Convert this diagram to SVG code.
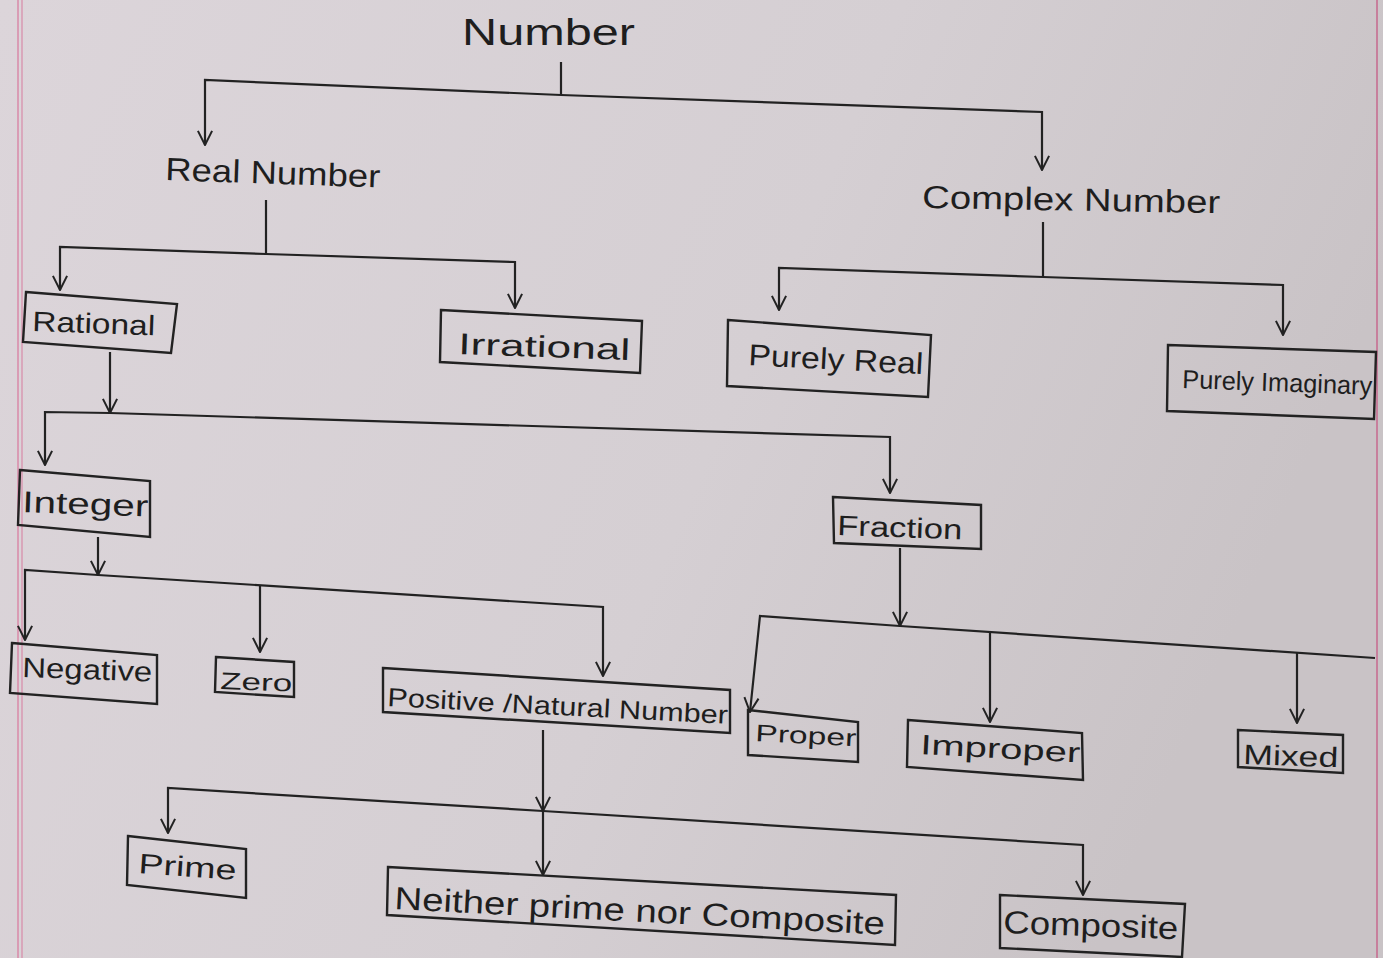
<svg xmlns="http://www.w3.org/2000/svg" width="1383" height="958" viewBox="0 0 1383 958">
<defs>
<linearGradient id="paper" x1="0" y1="0" x2="1" y2="0.3">
<stop offset="0" stop-color="#dcd5da"/>
<stop offset="0.6" stop-color="#d5cfd3"/>
<stop offset="1" stop-color="#c9c3c6"/>
</linearGradient>
<marker id="arr" viewBox="0 0 12 12" refX="11" refY="6" markerWidth="17" markerHeight="17" markerUnits="userSpaceOnUse" orient="auto">
<path d="M1,1 L11,6 L1,11" fill="none" stroke="#222" stroke-width="1.4"/>
</marker>
<style>
.t{font-family:"Liberation Sans",Arial,sans-serif;fill:#1e1e1e;}
.b{fill:none;stroke:#222;stroke-width:2.4;stroke-linejoin:miter;}
.c{fill:none;stroke:#222;stroke-width:2.2;}
.a{marker-end:url(#arr);}
</style>
</defs>
<rect width="1383" height="958" fill="url(#paper)"/>
<line x1="18" y1="0" x2="18" y2="958" stroke="#d88aa8" stroke-width="1.5"/>
<line x1="22" y1="0" x2="22" y2="958" stroke="#d88aa8" stroke-width="1.2"/>
<line x1="1377" y1="0" x2="1377" y2="958" stroke="#c77f9c" stroke-width="2"/>

<g id="connectors">
<path class="c" d="M561,62 L561,95"/>
<path class="c a" d="M561,95 L205,80 L205,145"/>
<path class="c a" d="M561,95 L1042,112 L1042,170"/>
<path class="c" d="M266,200 L266,254"/>
<path class="c a" d="M266,254 L60,247 L60,290"/>
<path class="c a" d="M266,254 L515,262 L515,308"/>
<path class="c" d="M1043,222 L1043,277"/>
<path class="c a" d="M1043,277 L779,268 L779,310"/>
<path class="c a" d="M1043,277 L1283,285 L1283,335"/>
<path class="c a" d="M110,352 L110,413"/>
<path class="c a" d="M110,413 L45,412 L45,465"/>
<path class="c a" d="M110,413 L890,437 L890,493"/>
<path class="c a" d="M98,537 L98,575"/>
<path class="c a" d="M98,575 L25,570 L25,640"/>
<path class="c a" d="M260,585 L260,652"/>
<path class="c a" d="M98,575 L603,607 L603,676"/>
<path class="c a" d="M900,548 L900,626"/>
<path class="c a" d="M900,626 L760,616 L750,712"/>
<path class="c" d="M900,626 L1375,658"/>
<path class="c a" d="M990,632 L990,722"/>
<path class="c a" d="M1297,653 L1297,723"/>
<path class="c a" d="M543,730 L543,811"/>
<path class="c a" d="M543,811 L543,875"/>
<path class="c a" d="M543,811 L168,788 L168,833"/>
<path class="c a" d="M543,811 L1083,845 L1083,895"/>
</g>

<g id="number"><text class="t" x="462" y="45" font-size="36" textLength="173" lengthAdjust="spacingAndGlyphs">Number</text></g>
<g id="real-number"><text class="t" x="165" y="180" font-size="32" textLength="215" lengthAdjust="spacingAndGlyphs" transform="rotate(2 165 180)">Real Number</text></g>
<g id="complex-number"><text class="t" x="922" y="208" font-size="32" textLength="298" lengthAdjust="spacingAndGlyphs" transform="rotate(1 922 208)">Complex Number</text></g>

<g id="rational">
<polygon class="b" points="26,292 177,304 171,353 23,342"/>
<text class="t" x="32" y="331" font-size="28" textLength="123" lengthAdjust="spacingAndGlyphs" transform="rotate(2 32 331)">Rational</text>
</g>
<g id="irrational">
<polygon class="b" points="441,310 642,321 640,373 440,362"/>
<text class="t" x="458" y="354" font-size="30" textLength="172" lengthAdjust="spacingAndGlyphs" transform="rotate(2 458 354)">Irrational</text>
</g>
<g id="purely-real">
<polygon class="b" points="728,320 931,335 928,397 727,386"/>
<text class="t" x="748" y="365" font-size="30" textLength="175" lengthAdjust="spacingAndGlyphs" transform="rotate(3 748 365)">Purely Real</text>
</g>
<g id="purely-imaginary">
<polygon class="b" points="1168,345 1376,352 1374,419 1167,411"/>
<text class="t" x="1182" y="388" font-size="26" textLength="190" lengthAdjust="spacingAndGlyphs" transform="rotate(2 1182 388)">Purely Imaginary</text>
</g>
<g id="integer">
<polygon class="b" points="20,470 150,481 150,537 18,525"/>
<text class="t" x="22" y="512" font-size="30" textLength="126" lengthAdjust="spacingAndGlyphs" transform="rotate(2 22 512)">Integer</text>
</g>
<g id="fraction">
<polygon class="b" points="833,497 981,505 981,549 834,543"/>
<text class="t" x="837" y="535" font-size="28" textLength="125" lengthAdjust="spacingAndGlyphs" transform="rotate(2 837 535)">Fraction</text>
</g>
<g id="negative">
<polygon class="b" points="12,643 157,655 157,704 10,693"/>
<text class="t" x="22" y="677" font-size="28" textLength="130" lengthAdjust="spacingAndGlyphs" transform="rotate(2 22 677)">Negative</text>
</g>
<g id="zero">
<polygon class="b" points="216,657 294,662 294,697 215,692"/>
<text class="t" x="220" y="689" font-size="24" textLength="72" lengthAdjust="spacingAndGlyphs" transform="rotate(2 220 689)">Zero</text>
</g>
<g id="positive-natural">
<polygon class="b" points="383,668 730,690 730,733 383,712"/>
<text class="t" x="387" y="706" font-size="26" textLength="341" lengthAdjust="spacingAndGlyphs" transform="rotate(3 387 706)">Positive /Natural Number</text>
</g>
<g id="proper">
<polygon class="b" points="748,710 858,722 858,762 748,755"/>
<text class="t" x="755" y="741" font-size="24" textLength="101" lengthAdjust="spacingAndGlyphs" transform="rotate(3 755 741)">Proper</text>
</g>
<g id="improper">
<polygon class="b" points="908,720 1082,733 1083,780 907,767"/>
<text class="t" x="920" y="754" font-size="28" textLength="160" lengthAdjust="spacingAndGlyphs" transform="rotate(3 920 754)">Improper</text>
</g>
<g id="mixed">
<polygon class="b" points="1238,730 1343,735 1343,773 1238,767"/>
<text class="t" x="1243" y="764" font-size="28" textLength="95" lengthAdjust="spacingAndGlyphs" transform="rotate(2 1243 764)">Mixed</text>
</g>
<g id="prime">
<polygon class="b" points="128,836 246,849 246,898 127,885"/>
<text class="t" x="138" y="873" font-size="28" textLength="98" lengthAdjust="spacingAndGlyphs" transform="rotate(4 138 873)">Prime</text>
</g>
<g id="neither">
<polygon class="b" points="388,867 896,895 895,945 387,915"/>
<text class="t" x="394" y="909" font-size="32" textLength="491" lengthAdjust="spacingAndGlyphs" transform="rotate(3 394 909)">Neither prime nor Composite</text>
</g>
<g id="composite">
<polygon class="b" points="1000,895 1185,904 1182,957 1000,948"/>
<text class="t" x="1003" y="933" font-size="32" textLength="175" lengthAdjust="spacingAndGlyphs" transform="rotate(2 1003 933)">Composite</text>
</g>
</svg>
